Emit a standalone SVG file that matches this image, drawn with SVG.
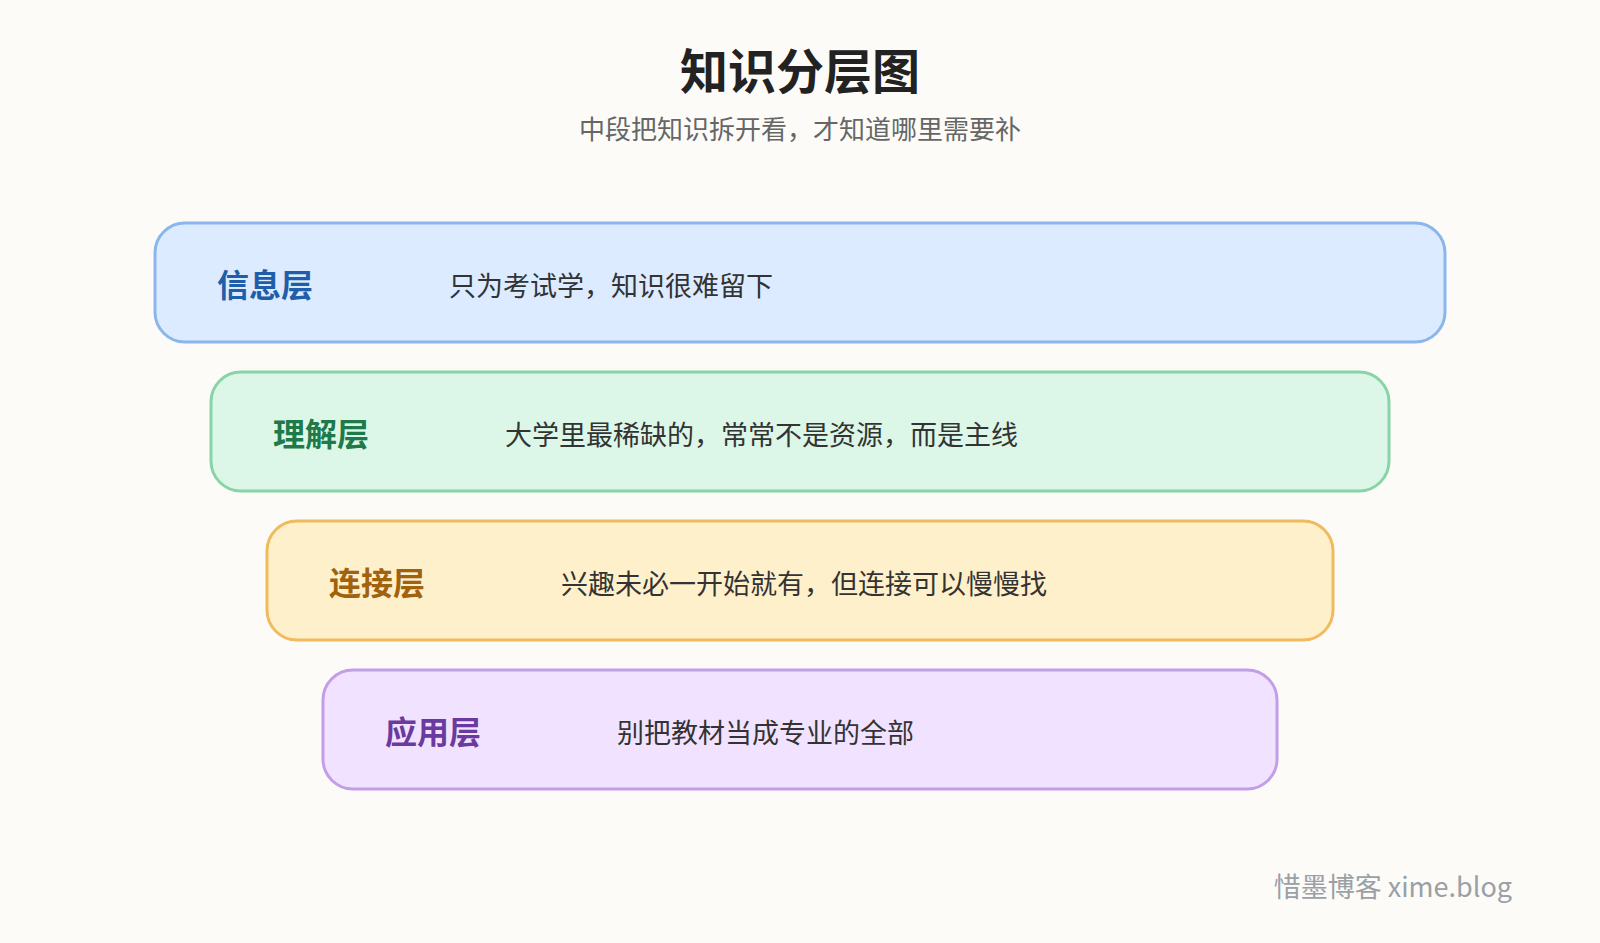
<svg xmlns="http://www.w3.org/2000/svg" width="1600" height="943" viewBox="0 0 1600 943">
<style>
text{font-family:"Noto Sans CJK SC","Liberation Sans",sans-serif}
.box{stroke-width:3}
.lab{font-size:32px;font-weight:bold;dominant-baseline:central}
.desc{font-size:27px;fill:#333;dominant-baseline:central}
</style>
<rect width="1600" height="943" fill="#fcfbf7"/>
<text x="800" y="68" text-anchor="middle" dominant-baseline="central" font-size="48" font-weight="bold" fill="#222">知识分层图</text>
<text x="800" y="127" text-anchor="middle" dominant-baseline="central" font-size="26" fill="#666">中段把知识拆开看，才知道哪里需要补</text>
<g id="n1"><rect class="box" x="155" y="223" width="1290" height="119" rx="30" fill="#dcebff" stroke="#8ab6ec"/><text class="lab" x="217" y="283" fill="#1f5ea8">信息层</text><text class="desc" x="449" y="284">只为考试学，知识很难留下</text></g>
<g id="n2"><rect class="box" x="211" y="372" width="1178" height="119" rx="30" fill="#dcf7e8" stroke="#88d4a8"/><text class="lab" x="273" y="432" fill="#1e7a48">理解层</text><text class="desc" x="505" y="433">大学里最稀缺的，常常不是资源，而是主线</text></g>
<g id="n3"><rect class="box" x="267" y="521" width="1066" height="119" rx="30" fill="#fff0cc" stroke="#f0bb5e"/><text class="lab" x="329" y="581" fill="#a0620c">连接层</text><text class="desc" x="561" y="582">兴趣未必一开始就有，但连接可以慢慢找</text></g>
<g id="n4"><rect class="box" x="323" y="670" width="954" height="119" rx="30" fill="#f1e2ff" stroke="#c39ee8"/><text class="lab" x="385" y="730" fill="#6a3a9e">应用层</text><text class="desc" x="617" y="731">别把教材当成专业的全部</text></g>
<g id="connectors"></g>
<text x="1512" y="885" text-anchor="end" dominant-baseline="central" font-size="27" fill="#9aa0a6">惜墨博客 xime.blog</text>
</svg>
